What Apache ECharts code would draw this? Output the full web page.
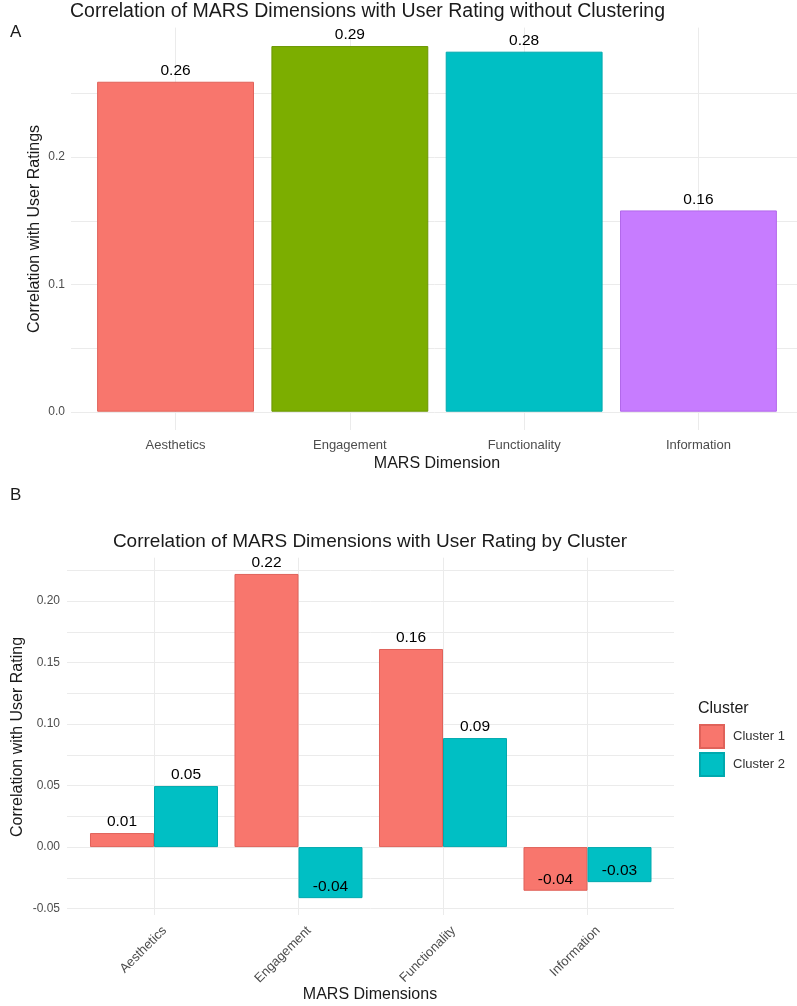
<!DOCTYPE html>
<html>
<head>
<meta charset="utf-8">
<script src="https://cdn.jsdelivr.net/npm/echarts@6/dist/echarts.min.js"></script>
<style>
  html, body { margin: 0; padding: 0; background: #fff; }
  #chart { width: 797px; height: 1006px; }
</style>
</head>
<body>
<div id="chart"></div>
<script>
// data
const dimensions = ['Aesthetics', 'Engagement', 'Functionality', 'Information'];
const overallValues = [0.259, 0.287, 0.2826, 0.158];
const clusterNames = ['Cluster 1', 'Cluster 2'];
const cluster1Values = [0.0114, 0.222, 0.161, -0.0355];
const cluster2Values = [0.0496, -0.0415, 0.0886, -0.0285];
const yTicksA = [0, 0.1, 0.2];
const yTicksB = [-0.05, 0, 0.05, 0.10, 0.15, 0.20];

const dimColors = ['#F8766D', '#7CAE00', '#00BFC4', '#C77CFF'];
const dimBorders = ['#e0625a', '#6a9600', '#00a9ae', '#b268ea'];
const clusterColors = ['#F8766D', '#00BFC4'];
const clusterBorders = ['#e0625a', '#00a9ae'];

const FONT = 'Liberation Sans, Arial, sans-serif';
const GRID_LINE = '#ebebeb';

const chart = echarts.init(document.getElementById('chart'));

function tickFormatter(ticks, digits) {
    return function (v) {
        const hit = ticks.find(t => Math.abs(t - v) < 1e-9);
        return hit === undefined ? '' : hit.toFixed(digits);
    };
}

function txt(text, x, y, size, opts) {
    opts = opts || {};
    return {
        type: 'text',
        x: x,
        y: y,
        rotation: opts.rotation || 0,
        style: {
            text: text,
            font: size + 'px ' + FONT,
            fill: opts.color || '#1a1a1a',
            textAlign: opts.align || 'left',
            align: opts.align || 'left',
            textVerticalAlign: 'middle',
            verticalAlign: 'middle'
        }
    };
}

const labelBase = {
    show: true,
    fontSize: 15.5,
    color: '#000',
    fontFamily: FONT,
    distance: 3,
    formatter: p => Number(p.value).toFixed(2)
};

function clusterData(values) {
    return values.map(v => ({
        value: v,
        label: { position: v >= 0 ? 'top' : 'insideBottom' }
    }));
}

const option = {
    backgroundColor: '#fff',
    animation: false,
    grid: [
        // panel A: background grid (0 .. 0.25) for horizontal lines
        { left: 71, top: 93.25, width: 732, height: 318.75, outerBoundsMode: 'none', containLabel: false },
        // panel A: bars
        { left: 88.4, top: 27.6, width: 697.2, height: 402.4, outerBoundsMode: 'none', containLabel: false },
        // panel B: background grid (-0.05 .. 0.225)
        { left: 67, top: 570.25, width: 607, height: 338.25, outerBoundsMode: 'none', containLabel: false },
        // panel B: bars
        { left: 81.75, top: 557.7, width: 578, height: 357.3, outerBoundsMode: 'none', containLabel: false }
    ],
    xAxis: [
        { gridIndex: 0, type: 'value', min: 0, max: 1, show: false },
        {
            gridIndex: 1, type: 'category', data: dimensions,
            axisLine: { show: false }, axisTick: { show: false },
            axisLabel: { color: '#4d4d4d', fontSize: 13, fontFamily: FONT, margin: 9 },
            splitLine: { show: true, alignWithLabel: true, lineStyle: { color: GRID_LINE, width: 1 } }
        },
        { gridIndex: 2, type: 'value', min: 0, max: 1, show: false },
        {
            gridIndex: 3, type: 'category', data: dimensions,
            axisLine: { show: false }, axisTick: { show: false },
            axisLabel: {
                color: '#4d4d4d', fontSize: 13, fontFamily: FONT, rotate: 45,
                verticalAlign: 'top', lineHeight: 30, margin: 3
            },
            splitLine: { show: true, alignWithLabel: true, lineStyle: { color: GRID_LINE, width: 1 } }
        }
    ],
    yAxis: [
        {
            gridIndex: 0, type: 'value', min: 0, max: 0.25, interval: 0.05,
            axisLine: { show: false }, axisTick: { show: false },
            axisLabel: { color: '#4d4d4d', fontSize: 12, fontFamily: FONT, margin: 6, formatter: tickFormatter(yTicksA, 1) },
            splitLine: { show: true, lineStyle: { color: GRID_LINE, width: 1 } }
        },
        { gridIndex: 1, type: 'value', min: -0.01435, max: 0.3015, show: false },
        {
            gridIndex: 2, type: 'value', min: -0.05, max: 0.225, interval: 0.025,
            axisLine: { show: false }, axisTick: { show: false },
            axisLabel: { color: '#4d4d4d', fontSize: 12, fontFamily: FONT, margin: 7, formatter: tickFormatter(yTicksB, 2) },
            splitLine: { show: true, lineStyle: { color: GRID_LINE, width: 1 } }
        },
        { gridIndex: 3, type: 'value', min: -0.0552, max: 0.2352, show: false }
    ],
    legend: {
        data: clusterNames,
        orient: 'vertical',
        left: 699,
        top: 724,
        padding: 0,
        itemWidth: 24,
        itemHeight: 23,
        itemGap: 3,
        icon: 'rect',
        selectedMode: false,
        textStyle: { fontSize: 13, color: '#333', fontFamily: FONT, padding: [0, 0, 0, 4] }
    },
    series: [
        {
            type: 'bar',
            name: 'Overall',
            xAxisIndex: 1,
            yAxisIndex: 1,
            barWidth: '90%',
            data: overallValues.map((v, i) => ({
                value: v,
                itemStyle: { color: dimColors[i], borderColor: dimBorders[i], borderWidth: 1 }
            })),
            label: Object.assign({}, labelBase, { position: 'top' })
        },
        {
            type: 'bar',
            name: clusterNames[0],
            xAxisIndex: 3,
            yAxisIndex: 3,
            barWidth: '44.3%',
            barGap: '0%',
            itemStyle: { color: clusterColors[0], borderColor: clusterBorders[0], borderWidth: 1 },
            data: clusterData(cluster1Values),
            label: labelBase
        },
        {
            type: 'bar',
            name: clusterNames[1],
            xAxisIndex: 3,
            yAxisIndex: 3,
            barWidth: '44.3%',
            barGap: '0%',
            itemStyle: { color: clusterColors[1], borderColor: clusterBorders[1], borderWidth: 1 },
            data: clusterData(cluster2Values),
            label: labelBase
        }
    ],
    graphic: [
        txt('Correlation of MARS Dimensions with User Rating without Clustering', 70, 12, 19.5),
        txt('A', 10, 32, 17),
        txt('Correlation with User Ratings', 35, 229, 16, { rotation: Math.PI / 2, align: 'center' }),
        txt('MARS Dimension', 437, 464, 16, { align: 'center' }),
        txt('B', 10, 495, 17),
        txt('Correlation of MARS Dimensions with User Rating by Cluster', 370, 542, 19, { align: 'center' }),
        txt('Correlation with User Rating', 18, 737, 16, { rotation: Math.PI / 2, align: 'center' }),
        txt('MARS Dimensions', 370, 995, 16, { align: 'center' }),
        txt('Cluster', 698, 709, 16)
    ]
};

chart.setOption(option);

window.addEventListener('resize', () => {
    chart.resize();
});
</script>
</body>
</html>
